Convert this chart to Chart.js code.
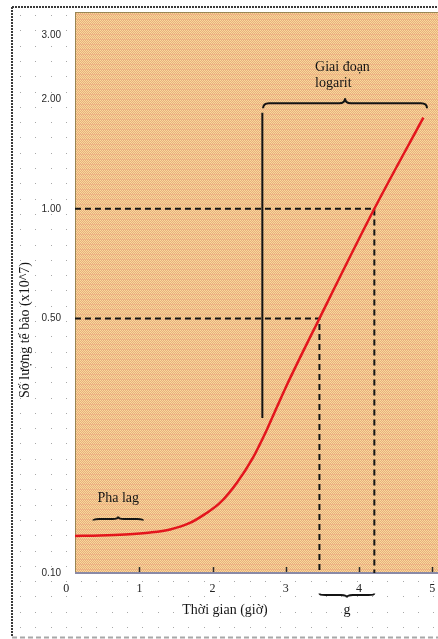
<!DOCTYPE html>
<html>
<head>
<meta charset="utf-8">
<script src="https://cdn.jsdelivr.net/npm/chart.js@4/dist/chart.umd.min.js"></script>
<style>
  html, body { margin: 0; padding: 0; background: #fff; }
  #wrap { width: 438px; height: 639px; }
</style>
</head>
<body>
<div id="wrap"><canvas id="growth" width="438" height="639"></canvas></div>
<script>
// Bacterial growth curve: time (hours) against cell count (x10^7), log axis
const hours = [0.12, 0.46, 0.80, 1.15, 1.42, 1.69, 1.90, 2.10, 2.33, 2.55, 2.74, 2.99, 3.46, 4.21, 4.88];
const cells = [0.1264, 0.1268, 0.1276, 0.1292, 0.1317, 0.1372, 0.1453, 0.1557, 0.1767, 0.2070, 0.2471, 0.3202, 0.50, 1.00, 1.78];

const xTicks = [0, 1, 2, 3, 4, 5];
const yTicks = [0.1, 0.5, 1, 2, 3];
const yTickLabels = ['0.10', '0.50', '1.00', '2.00', '3.00'];

// Read-off levels and the times where the curve reaches them (one generation apart)
const readLevels = [0.5, 1.0];
const readTimes = [3.46, 4.21];

// Start of the logarithmic phase and its marker line
const logStart = 2.68;
const logLineY = [0.2666, 1.835];
const logBraceX = [2.69, 4.93];
const logBraceY = 1.949;

// Lag phase bracket
const lagBraceX = [0.37, 1.05];
const lagBraceY = 0.1408;

const X_MIN = 0.12, X_MAX = 5.08;
const Y_MIN = 0.1, Y_MAX = 3.47;

const SERIF = '"Liberation Serif", "DejaVu Serif", serif';

// Dithered tan texture for the plotting area
function makeTexture(ctx) {
  const Y = '#f6e096', S = '#eba882', P = '#efb486';
  const rows = [[Y, S], [S, Y], [Y, S], [S, Y], [P, P]];
  const c = document.createElement('canvas');
  c.width = 2; c.height = rows.length;
  const g = c.getContext('2d');
  rows.forEach((r, y) => r.forEach((col, x) => { g.fillStyle = col; g.fillRect(x, y, 1, 1); }));
  return ctx.createPattern(c, 'repeat');
}

function brace(ctx, x1, x2, y, d, h) {
  const mid = (x1 + x2) / 2;
  const r = Math.min(6, (x2 - x1) / 6);
  ctx.beginPath();
  ctx.moveTo(x1, y + d);
  ctx.quadraticCurveTo(x1, y, x1 + r, y);
  ctx.lineTo(mid - r, y);
  ctx.quadraticCurveTo(mid, y, mid, y - h);
  ctx.quadraticCurveTo(mid, y, mid + r, y);
  ctx.lineTo(x2 - r, y);
  ctx.quadraticCurveTo(x2, y, x2, y + d);
  ctx.stroke();
}

const pageDecor = {
  id: 'pageDecor',
  beforeDraw(chart) {
    const ctx = chart.ctx;
    const W = chart.width, H = chart.height;
    const a = chart.chartArea;
    ctx.save();
    ctx.fillStyle = '#fff';
    ctx.fillRect(0, 0, W, H);
    // dotted paper
    ctx.fillStyle = '#a8a8a8';
    for (let y = 15; y < H - 4; y += 15.3) {
      for (let x = 20; x < W; x += 15.3) ctx.fillRect(Math.round(x), Math.round(y), 1, 1);
    }
    // frame
    ctx.setLineDash([2, 1]);
    ctx.strokeStyle = '#3a3a3a';
    ctx.lineWidth = 2;
    ctx.beginPath(); ctx.moveTo(12, 7); ctx.lineTo(12, 637); ctx.stroke();
    ctx.beginPath(); ctx.moveTo(12, 7); ctx.lineTo(W, 7); ctx.stroke();
    ctx.setLineDash([5, 3]);
    ctx.strokeStyle = '#a8a8a8';
    ctx.beginPath(); ctx.moveTo(12, 637.5); ctx.lineTo(W, 637.5); ctx.stroke();
    ctx.setLineDash([]);
    // plotting area
    ctx.fillStyle = makeTexture(ctx);
    ctx.fillRect(a.left, a.top, a.right - a.left, a.bottom - a.top);
    ctx.fillStyle = '#9a8654';
    ctx.fillRect(a.left, a.top, a.right - a.left, 1);
    ctx.fillRect(a.left, a.top, 1, a.bottom - a.top);
    ctx.fillStyle = '#8a8aa6';
    ctx.fillRect(a.left, a.bottom - 1, a.right - a.left, 2);
    ctx.restore();
  },
  afterDatasetsDraw(chart) {
    const ctx = chart.ctx;
    const xs = chart.scales.x, ys = chart.scales.y;
    const a = chart.chartArea;
    ctx.save();
    // small inward ticks on the time axis
    ctx.strokeStyle = '#2a2a2a';
    ctx.lineWidth = 1.5;
    xTicks.forEach(v => {
      const px = Math.round(xs.getPixelForValue(v)) + 0.5;
      if (px < a.left || px > a.right) return;
      ctx.beginPath(); ctx.moveTo(px, a.bottom - 1); ctx.lineTo(px, a.bottom - 6); ctx.stroke();
    });
    // brackets
    ctx.strokeStyle = '#141414';
    ctx.lineWidth = 2;
    brace(ctx, xs.getPixelForValue(logBraceX[0]), xs.getPixelForValue(logBraceX[1]),
          ys.getPixelForValue(logBraceY), 5, 5);
    brace(ctx, xs.getPixelForValue(lagBraceX[0]), xs.getPixelForValue(lagBraceX[1]),
          ys.getPixelForValue(lagBraceY), 1.5, 2.5);
    brace(ctx, xs.getPixelForValue(readTimes[0]), xs.getPixelForValue(readTimes[1]),
          a.bottom + 22, -1.5, -2.5);

    // annotation text
    ctx.fillStyle = '#151515';
    ctx.font = '14px ' + SERIF;
    ctx.textBaseline = 'middle';
    ctx.textAlign = 'center';
    const lagMid = xs.getPixelForValue((lagBraceX[0] + lagBraceX[1]) / 2);
    ctx.fillText('Pha lag', lagMid, ys.getPixelForValue(lagBraceY) - 21);
    ctx.textAlign = 'left';
    const logTextX = xs.getPixelForValue(3.40);
    const braceY = ys.getPixelForValue(logBraceY);
    ctx.fillText('Giai đoạn', logTextX, braceY - 36);
    ctx.fillText('logarit', logTextX, braceY - 20);
    ctx.textAlign = 'center';
    ctx.fillText('g', xs.getPixelForValue((readTimes[0] + readTimes[1]) / 2), a.bottom + 37);
    ctx.fillText('Thời gian (giờ)', 225, a.bottom + 37);
    ctx.translate(25, 330);
    ctx.rotate(-Math.PI / 2);
    ctx.fillText('Số lượng tế bào (x10^7)', 0, 0);
    ctx.restore();
  }
};

const curve = hours.map((h, i) => ({ x: h, y: cells[i] }));
const readLines = readLevels.map((lv, i) => ({
  data: [{ x: X_MIN, y: lv }, { x: readTimes[i], y: lv }, { x: readTimes[i], y: Y_MIN }],
  borderColor: '#141414',
  borderWidth: 2,
  borderDash: [6, 4],
  pointRadius: 0,
  tension: 0
}));

new Chart(document.getElementById('growth'), {
  type: 'line',
  data: {
    datasets: [
      {
        data: curve,
        borderColor: '#e3161d',
        borderWidth: 2.5,
        pointRadius: 0,
        cubicInterpolationMode: 'monotone',
        fill: false
      },
      ...readLines,
      {
        data: [{ x: logStart, y: logLineY[0] }, { x: logStart, y: logLineY[1] }],
        borderColor: '#141414',
        borderWidth: 2,
        pointRadius: 0
      }
    ]
  },
  options: {
    responsive: false,
    animation: false,
    events: [],
    layout: { padding: { top: 12, left: 0, right: 0, bottom: 0 } },
    plugins: { legend: { display: false }, tooltip: { enabled: false } },
    scales: {
      x: {
        type: 'linear',
        min: X_MIN,
        max: X_MAX,
        afterBuildTicks: s => { s.ticks = xTicks.map(v => ({ value: v })); },
        afterFit: s => { s.height = 66; },
        grid: { display: false },
        border: { display: false },
        ticks: {
          autoSkip: false,
          maxRotation: 0,
          padding: 1,
          color: '#222',
          font: { family: SERIF, size: 12 },
          callback: v => String(v)
        }
      },
      y: {
        type: 'logarithmic',
        min: Y_MIN,
        max: Y_MAX,
        afterBuildTicks: s => { s.ticks = yTicks.map(v => ({ value: v })); },
        afterFit: s => { s.width = 75; },
        grid: { display: false },
        border: { display: false },
        ticks: {
          autoSkip: false,
          padding: 6,
          color: '#2a2a2a',
          font: { family: '"Liberation Sans", Arial, sans-serif', size: 10 },
          callback: v => yTickLabels[yTicks.indexOf(v)]
        }
      }
    }
  },
  plugins: [pageDecor]
});
</script>
</body>
</html>
